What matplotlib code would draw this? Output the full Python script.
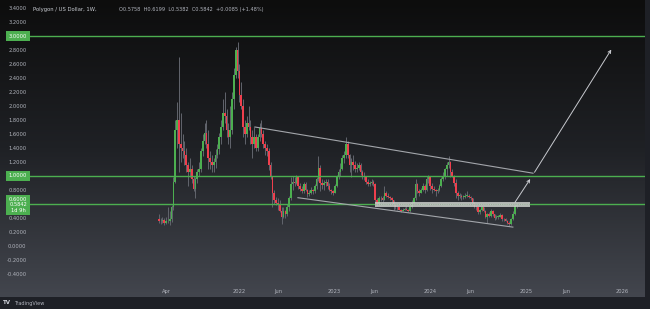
import numpy as np
import pandas as pd
import matplotlib
matplotlib.use('Agg')
import matplotlib.pyplot as plt
import matplotlib.dates as mdates
from matplotlib.colors import LinearSegmentedColormap

# weekly MATIC/USD candles (open = previous close)
start = '2021-03-01'
first_open = 0.38
closes = [
    # 2021
    0.36, 0.35, 0.37, 0.33, 0.36, 0.35, 0.38, 0.55, 0.92, 1.65, 1.80, 1.45, 1.40, 1.35,
    1.30, 1.15, 1.05, 1.10, 0.95, 0.82, 0.95, 1.05, 1.10, 1.35, 1.50, 1.62, 1.45, 1.25,
    1.20, 1.15, 1.20, 1.30, 1.38, 1.55, 1.70, 1.90, 1.85, 1.65, 1.55, 1.65, 2.10, 2.45,
    2.80, 2.50,
    # 2022
    2.15, 2.00, 1.70, 1.60, 1.75, 1.70, 1.55, 1.45, 1.55, 1.40, 1.55, 1.68, 1.60, 1.45,
    1.40, 1.35, 1.15, 0.98, 0.75, 0.65, 0.62, 0.60, 0.50, 0.42, 0.50, 0.45, 0.55, 0.68,
    0.88, 0.92, 0.90, 0.98, 0.85, 0.82, 0.78, 0.88, 0.80, 0.74, 0.76, 0.80, 0.78, 0.85,
    0.95, 1.12, 0.90, 0.87, 0.90, 0.92, 0.85, 0.80, 0.78, 0.76,
    # 2023
    0.85, 1.00, 1.05, 1.10, 1.25, 1.30, 1.45, 1.30, 1.15, 1.20, 1.15, 1.10, 1.12, 1.15,
    1.05, 1.00, 0.98, 0.92, 0.88, 0.90, 0.92, 0.88, 0.65, 0.60, 0.68, 0.68, 0.66, 0.75,
    0.72, 0.70, 0.68, 0.65, 0.58, 0.55, 0.55, 0.52, 0.50, 0.52, 0.53, 0.52, 0.50, 0.55,
    0.62, 0.68, 0.88, 0.78, 0.76, 0.80, 0.85, 0.80, 0.95, 0.98,
    # 2024
    0.85, 0.82, 0.80, 0.78, 0.80, 0.85, 0.95, 0.98, 1.10, 1.15, 1.20, 1.05, 1.00, 0.90,
    0.75, 0.72, 0.72, 0.70, 0.70, 0.72, 0.72, 0.70, 0.68, 0.62, 0.56, 0.55, 0.48, 0.52,
    0.55, 0.50, 0.42, 0.45, 0.43, 0.50, 0.45, 0.40, 0.42, 0.42, 0.44, 0.38, 0.38, 0.36,
    0.33, 0.31, 0.38, 0.45, 0.5758, 0.5842,
]
highs = [
    0.45, 0.40, 0.42, 0.40, 0.42, 0.56, 0.50, 0.58, 0.98, 1.80, 2.05, 2.70, 1.90, 1.60,
    1.50, 1.40, 1.20, 1.25, 1.15, 1.00, 0.98, 1.10, 1.20, 1.40, 1.60, 1.75, 1.80, 1.65,
    1.35, 1.30, 1.25, 1.38, 1.45, 1.62, 1.80, 2.10, 2.20, 1.95, 1.75, 2.00, 2.20, 2.55,
    2.85, 2.92,
    2.60, 2.35, 2.10, 1.80, 1.85, 2.00, 1.80, 1.65, 1.70, 1.60, 1.60, 1.75, 1.80, 1.65,
    1.50, 1.45, 1.40, 1.20, 1.00, 0.80, 0.70, 0.68, 0.65, 0.55, 0.55, 0.52, 0.60, 0.72,
    0.98, 1.00, 0.98, 1.02, 1.00, 0.90, 0.85, 0.92, 0.92, 0.82, 0.80, 0.84, 0.82, 0.88,
    0.98, 1.29, 1.15, 0.95, 0.94, 0.96, 0.95, 0.90, 0.82, 0.80,
    0.88, 1.02, 1.10, 1.18, 1.30, 1.35, 1.55, 1.50, 1.32, 1.25, 1.30, 1.22, 1.18, 1.20,
    1.18, 1.08, 1.05, 1.00, 0.95, 0.93, 0.95, 0.94, 0.90, 0.68, 0.72, 0.72, 0.72, 0.85,
    0.78, 0.75, 0.72, 0.70, 0.66, 0.60, 0.58, 0.56, 0.53, 0.54, 0.56, 0.57, 0.53, 0.57,
    0.66, 0.70, 0.95, 0.90, 0.82, 0.83, 0.90, 0.88, 1.00, 1.02,
    1.00, 0.90, 0.85, 0.82, 0.83, 0.88, 0.98, 1.05, 1.12, 1.20, 1.29, 1.22, 1.10, 1.02,
    0.95, 0.78, 0.76, 0.74, 0.73, 0.75, 0.78, 0.74, 0.72, 0.69, 0.63, 0.58, 0.56, 0.53,
    0.57, 0.56, 0.52, 0.47, 0.48, 0.53, 0.52, 0.46, 0.44, 0.44, 0.47, 0.45, 0.40, 0.40,
    0.37, 0.35, 0.40, 0.50, 0.60, 0.6199,
]
lows = [
    0.33, 0.32, 0.33, 0.30, 0.32, 0.33, 0.30, 0.34, 0.52, 0.90, 1.40, 1.05, 1.20, 1.25,
    1.15, 1.05, 0.85, 0.98, 0.90, 0.78, 0.68, 0.90, 1.00, 1.05, 1.28, 1.45, 1.40, 1.10,
    1.10, 1.05, 1.05, 1.12, 1.25, 1.32, 1.45, 1.65, 1.75, 1.55, 1.45, 1.40, 1.60, 1.95,
    2.40, 2.40,
    2.05, 1.95, 1.55, 1.45, 1.55, 1.65, 1.45, 1.25, 1.40, 1.35, 1.35, 1.50, 1.55, 1.40,
    1.30, 1.28, 1.08, 0.95, 0.55, 0.60, 0.58, 0.52, 0.48, 0.32, 0.40, 0.40, 0.43, 0.50,
    0.65, 0.80, 0.85, 0.88, 0.82, 0.78, 0.75, 0.76, 0.78, 0.70, 0.72, 0.74, 0.74, 0.76,
    0.82, 0.93, 0.78, 0.82, 0.80, 0.86, 0.82, 0.78, 0.74, 0.73,
    0.75, 0.84, 0.95, 1.00, 1.08, 1.18, 1.25, 1.25, 1.05, 0.98, 1.08, 1.05, 1.05, 1.08,
    1.02, 0.95, 0.94, 0.88, 0.85, 0.86, 0.87, 0.85, 0.60, 0.57, 0.58, 0.64, 0.63, 0.65,
    0.70, 0.68, 0.66, 0.63, 0.52, 0.53, 0.52, 0.51, 0.49, 0.50, 0.51, 0.51, 0.48, 0.49,
    0.54, 0.61, 0.66, 0.75, 0.72, 0.75, 0.78, 0.76, 0.78, 0.90,
    0.80, 0.75, 0.78, 0.72, 0.76, 0.78, 0.84, 0.93, 0.96, 1.00, 1.12, 0.98, 0.98, 0.85,
    0.68, 0.65, 0.69, 0.66, 0.67, 0.68, 0.70, 0.68, 0.65, 0.58, 0.54, 0.52, 0.46, 0.45,
    0.50, 0.48, 0.40, 0.33, 0.41, 0.42, 0.43, 0.37, 0.38, 0.39, 0.41, 0.36, 0.36, 0.35,
    0.31, 0.29, 0.30, 0.37, 0.44, 0.5382,
]

levels = [3.0, 1.0, 0.6]
# trend lines / zone / arrows as (date, price)
upper_line = [('2022-03-03', 1.70), ('2025-01-27', 1.04)]
lower_line = [('2022-08-14', 0.69), ('2024-11-11', 0.27)]
zone_dates = ['2023-06-04', '2025-01-15']
zone_prices = [0.56, 0.63]
arrow1 = [('2024-11-13', 0.59), ('2025-01-22', 0.99)]
arrow2 = [('2025-01-27', 1.02), ('2025-11-27', 2.84)]

xtick_dates = ['2021-04-01', '2022-01-01', '2022-06-01', '2023-01-01', '2023-06-01',
               '2024-01-01', '2024-06-01', '2025-01-01', '2025-06-01', '2026-01-01']
xtick_labels = ['Apr', '2022', 'Jun', '2023', 'Jun', '2024', 'Jun', '2025', 'Jun', '2026']


def d(s):
    return mdates.date2num(pd.Timestamp(s).to_pydatetime())


W, H = 650, 309
fig = plt.figure(figsize=(6.5, 3.09), dpi=100, facecolor='#1e2026')


def rect(x, y, w, h):
    return [x / W, 1 - (y + h) / H, w / W, h / H]


bg = fig.add_axes(rect(0, 0, 645, 297))
cmap = LinearSegmentedColormap.from_list('bg', ['#0d0d0d', '#1f2125', '#43464e'])
bg.imshow(np.linspace(0, 1, 256)[:, None], aspect='auto', cmap=cmap, extent=[0, 1, 0, 1])
bg.axis('off')

ax = fig.add_axes(rect(30, 0, 615, 283))
ax.patch.set_alpha(0)
base = d('2022-01-01')
ax.set_xlim(base - 797, base + 1549)
ax.set_ylim(-0.5286, 3.5143)
for s in ax.spines.values():
    s.set_visible(False)

# candles
x = mdates.date2num(pd.date_range(start, periods=len(closes), freq='7D').to_pydatetime())
c = np.array(closes)
o = np.concatenate([[first_open], c[:-1]])
hi = np.array(highs)
lo = np.array(lows)
up = c >= o
cols = np.where(up, '#4caf50', '#ef3f4d')
ax.vlines(x, lo, hi, color='#62656d', lw=0.7, zorder=2)
body = np.maximum(np.abs(c - o), 0.012)
ax.bar(x, body, bottom=np.minimum(o, c), width=6.3, color=cols, lw=0, zorder=3)

for v in levels:
    ax.axhline(v, color='#4caf50', lw=1.0, zorder=4)

ax.fill_between([d(s) for s in zone_dates], zone_prices[0], zone_prices[1],
                color='#c9cdc9', alpha=0.85, lw=0, zorder=5)
ax.plot([d(s) for s in zone_dates], [np.mean(zone_prices)] * 2, color='#8d918e',
        lw=0.4, ls=(0, (2, 2)), zorder=6)

for ln in (upper_line, lower_line):
    ax.plot([d(p[0]) for p in ln], [p[1] for p in ln], color='#a3a6ab', lw=0.8, zorder=5)

for a in (arrow1, arrow2):
    ax.annotate('', xy=(d(a[1][0]), a[1][1]), xytext=(d(a[0][0]), a[0][1]),
                arrowprops=dict(arrowstyle='->', color='#c8cacf', lw=0.7, mutation_scale=5),
                zorder=6)

# axes labels
yt = [v for v in np.round(np.arange(-0.4, 3.41, 0.2), 1) if v not in levels]
ax.set_yticks(yt)
ax.set_yticklabels(['%.4f' % v for v in yt])
ax.tick_params(axis='y', length=0, pad=2.5, labelsize=3.7, labelcolor='#b2b5be')
ax.set_xticks([d(s) for s in xtick_dates])
ax.set_xticklabels(xtick_labels)
ax.tick_params(axis='x', length=0, pad=4.5, labelsize=3.7, labelcolor='#b2b5be')

box = dict(boxstyle='square,pad=0.5', fc='#4caf50', ec='none')
for v in (3.0, 1.0):
    ax.annotate('%.4f' % v, xy=(18, v), xycoords=('figure pixels', 'data'), ha='center',
                va='center', fontsize=3.7, color='white', bbox=box, zorder=7,
                annotation_clip=False)
ax.annotate('0.6000\n0.5842\n1d 9h', xy=(18, 0.586), xycoords=('figure pixels', 'data'),
            ha='center', va='center', fontsize=3.7, color='white', bbox=box,
            linespacing=1.05, zorder=7, annotation_clip=False)

fig.text(33 / W, 1 - 9 / H, 'Polygon / US Dollar, 1W,', fontsize=3.8, color='#c9ccd2',
         va='center')
fig.text(119 / W, 1 - 9 / H, 'O0.5758  H0.6199  L0.5382  C0.5842  +0.0085 (+1.48%)',
         fontsize=3.6, color='#b2b5be', va='center')
fig.text(3 / W, 1 - 303 / H, 'TV', fontsize=4, fontweight='bold', color='#d1d4dc', va='center')
fig.text(14 / W, 1 - 303 / H, 'TradingView', fontsize=3.6, color='#b2b5be', va='center')

fig.savefig('out.png', dpi=100, facecolor=fig.get_facecolor())
